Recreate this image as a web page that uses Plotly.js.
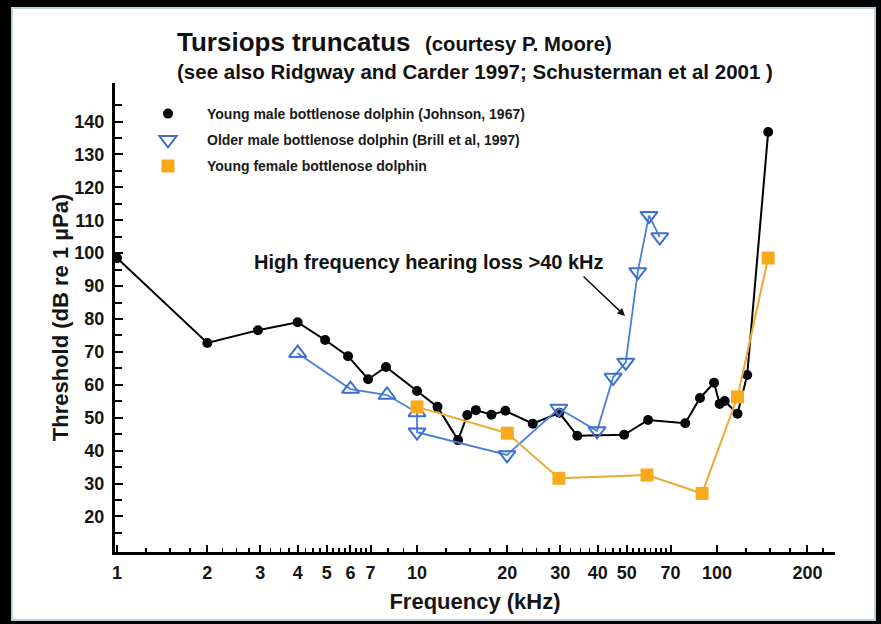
<!DOCTYPE html>
<html>
<head>
<meta charset="utf-8">
<script src="https://cdn.plot.ly/plotly-3.0.1.min.js"></script>
<style>
  html, body { margin: 0; padding: 0; background: #000; }
  #chart { width: 881px; height: 624px; }
</style>
</head>
<body>
<div id="chart"></div>
<script>
// ---- Data ----
const youngMaleFreq = [1, 2, 2.95, 4, 4.94, 5.89, 6.87, 7.88, 10, 11.7, 13.7, 14.7, 15.7, 17.7, 19.7, 24.3, 29.8, 34.2, 49, 58.9, 78.3, 87.7, 97.7, 102, 106, 117, 126, 148];
const youngMaleThr  = [98.5, 72.7, 76.6, 79, 73.6, 68.7, 61.7, 65.4, 58.1, 53.3, 43.2, 50.8, 52.3, 50.9, 52.1, 48.2, 51.5, 44.5, 44.8, 49.3, 48.3, 56, 60.6, 54.2, 55.1, 51.2, 63, 136.8];

const olderMaleFreq = [4, 6, 7.94, 10, 10, 19.95, 29.7, 39.8, 45, 49.6, 54.4, 59.3, 64.4];
const olderMaleThr  = [69.6, 58.7, 56.9, 51.6, 45.6, 38.7, 52.8, 46, 62.2, 66.8, 94.3, 111.4, 104.9];
const olderMaleSym  = ['up', 'up', 'up', 'up', 'down', 'down', 'down', 'down', 'down', 'down', 'down', 'down', 'down'];

const youngFemaleFreq = [10, 20, 29.7, 58.4, 89.1, 117, 148];
const youngFemaleThr  = [53.3, 45.3, 31.6, 32.6, 27, 56.3, 98.5];

const xTickVals = [1, 2, 3, 4, 5, 6, 7, 10, 20, 30, 40, 50, 70, 100, 200];
const xTickText = ['1', '2', '3', '4', '5', '6', '7', '10', '20', '30', '40', '50', '70', '100', '200'];
const xMinorVals = [1.25, 1.5, 1.75, 2.25, 2.5, 2.75, 3.25, 3.5, 3.75, 4.25, 4.5, 4.75, 5.25, 5.5, 5.75, 6.25, 6.5, 6.75, 8, 9,
                    12.5, 15, 17.5, 22.5, 25, 27.5, 32.5, 35, 37.5, 42.5, 45, 47.5, 52.5, 55, 57.5, 60, 62.5, 65, 67.5,
                    125, 150, 175, 225];
const yTickVals = [20, 30, 40, 50, 60, 70, 80, 90, 100, 110, 120, 130, 140];
const yMinorVals = [15, 25, 35, 45, 55, 65, 75, 85, 95, 105, 115, 125, 135, 145];

const seriesNames = [
  'Young male bottlenose dolphin (Johnson, 1967)',
  'Older male bottlenose dolphin (Brill et al, 1997)',
  'Young female bottlenose dolphin'
];

// ---- Styles ----
const FONT = 'Arial, "Liberation Sans", Helvetica, sans-serif';
const cBlack = '#000000';
const cBlue = '#4a7fd6';
const cOrange = '#f7ab1b';
const cOrangeLine = '#eba936';

function pick(arr, mask, want) { return arr.filter((v, i) => mask[i] === want); }

const traces = [
  // young male
  { x: youngMaleFreq, y: youngMaleThr, mode: 'lines', line: { color: cBlack, width: 2 },
    showlegend: false, legendgroup: 'g1', hoverinfo: 'skip' },
  { x: youngMaleFreq, y: youngMaleThr, mode: 'markers', name: seriesNames[0], legendgroup: 'g1',
    marker: { symbol: 'circle', size: 10, color: '#05070d', line: { width: 0 } } },
  // older male
  { x: olderMaleFreq, y: olderMaleThr, mode: 'lines', line: { color: cBlue, width: 1.8 },
    showlegend: false, legendgroup: 'g2', hoverinfo: 'skip' },
  { x: pick(olderMaleFreq, olderMaleSym, 'down'), y: pick(olderMaleThr, olderMaleSym, 'down'),
    mode: 'markers', name: seriesNames[1], legendgroup: 'g2',
    marker: { symbol: 'triangle-down-open', size: 15, color: '#3b6fd2', line: { width: 2, color: '#3b6fd2' } } },
  { x: pick(olderMaleFreq, olderMaleSym, 'up'), y: pick(olderMaleThr, olderMaleSym, 'up'),
    mode: 'markers', name: seriesNames[1], legendgroup: 'g2', showlegend: false,
    marker: { symbol: 'triangle-up-open', size: 15, color: '#3b6fd2', line: { width: 2, color: '#3b6fd2' } } },
  // young female
  { x: youngFemaleFreq, y: youngFemaleThr, mode: 'lines', line: { color: cOrangeLine, width: 2 },
    showlegend: false, legendgroup: 'g3', hoverinfo: 'skip' },
  { x: youngFemaleFreq, y: youngFemaleThr, mode: 'markers', name: seriesNames[2], legendgroup: 'g3',
    marker: { symbol: 'square', size: 13, color: cOrange, line: { width: 0 } } }
];

const L = 115, R = 46, T = 83, B = 72;
const W = 881, H = 624;
const pw = W - L - R, ph = H - T - B;
const px = v => (v - L) / pw;           // pixel x -> paper x
const py = v => (H - B - v) / ph;       // pixel y -> paper y

const layout = {
  width: W, height: H,
  margin: { l: L, r: R, t: T, b: B, pad: 0 },
  paper_bgcolor: '#000000',
  plot_bgcolor: '#ffffff',
  font: { family: FONT, color: '#111111', weight: 'bold' },
  showlegend: true,
  legend: {
    x: px(129), y: py(98), xanchor: 'left', yanchor: 'top',
    bgcolor: 'rgba(0,0,0,0)', borderwidth: 0,
    font: { family: FONT, size: 14, color: '#1a1a1a', weight: 'bold' },
    traceorder: 'grouped', tracegroupgap: 5, itemwidth: 68
  },
  xaxis: {
    type: 'log',
    range: [Math.log10(1) - 0.0067, 2.393],
    showgrid: false, zeroline: false,
    showline: true, linecolor: '#000', linewidth: 3,
    ticks: 'inside', ticklen: 7, tickwidth: 2, tickcolor: '#000',
    tickmode: 'array', tickvals: xTickVals, ticktext: xTickText,
    tickfont: { family: FONT, size: 18, color: '#151515', weight: 'bold' },
    ticklabelstandoff: 2,
    minor: { tickvals: xMinorVals, ticks: 'inside', ticklen: 4, tickwidth: 1.5, tickcolor: '#000', showgrid: false },
    title: { text: 'Frequency (kHz)', font: { family: FONT, size: 22, color: '#151515', weight: 'bold' }, standoff: 13 }
  },
  yaxis: {
    range: [9.2, 151.7],
    showgrid: false, zeroline: false,
    showline: true, linecolor: '#000', linewidth: 3,
    ticks: 'inside', ticklen: 8, tickwidth: 2, tickcolor: '#000',
    tickmode: 'array', tickvals: yTickVals,
    tickfont: { family: FONT, size: 18, color: '#151515', weight: 'bold' },
    ticklabelstandoff: 4,
    minor: { tickvals: yMinorVals, ticks: 'inside', ticklen: 7, tickwidth: 2, tickcolor: '#000', showgrid: false },
    title: { text: 'Threshold (dB re 1 µPa)', font: { family: FONT, size: 22, color: '#151515', weight: 'bold' }, standoff: 0 }
  },
  shapes: [
    { type: 'rect', xref: 'paper', yref: 'paper', layer: 'below',
      x0: px(12), x1: px(875), y0: py(620), y1: py(8),
      fillcolor: '#ffffff', line: { color: '#bcd2d8', width: 2 } }
  ],
  annotations: [
    { xref: 'paper', yref: 'paper', x: px(175), y: py(42), xanchor: 'left', yanchor: 'middle', showarrow: false,
      text: 'Tursiops truncatus&nbsp; <span style="font-size:20.3px">(courtesy P. Moore)</span>',
      font: { family: FONT, size: 26, color: '#111111', weight: 'bold' } },
    { xref: 'paper', yref: 'paper', x: px(175), y: py(72), xanchor: 'left', yanchor: 'middle', showarrow: false,
      text: '(see also Ridgway and Carder 1997; Schusterman et al 2001 )',
      font: { family: FONT, size: 20.5, color: '#111111', weight: 'bold' } },
    { xref: 'paper', yref: 'paper', x: px(428.5), y: py(262), xanchor: 'center', yanchor: 'middle', showarrow: false,
      text: 'High frequency hearing loss >40 kHz',
      font: { family: FONT, size: 20, color: '#111111', weight: 'bold' } },
    { xref: 'paper', yref: 'paper', x: px(625), y: py(316), showarrow: true, text: '',
      ax: -43, ay: -41, arrowhead: 2, arrowsize: 1, arrowwidth: 1.5, arrowcolor: '#111111' }
  ]
};

Plotly.newPlot('chart', traces, layout, { displayModeBar: false, staticPlot: true });
</script>
</body>
</html>
